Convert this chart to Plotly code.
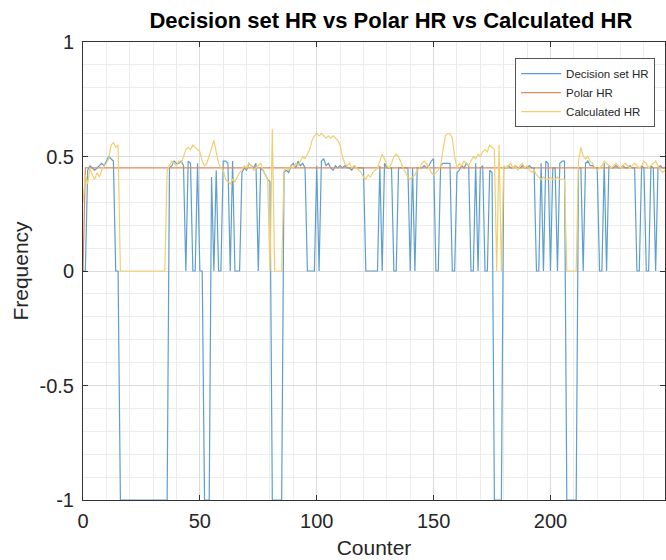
import plotly.graph_objects as go

counter = list(range(0, 250))

decision_hr = [
    0, 0, 0.44, 0.46, 0.45, 0.44, 0.45, 0.46, 0.47, 0.46,
    0.48, 0.50, 0.49, 0.48, 0, 0, -1, -1, -1, -1,
    -1, -1, -1, -1, -1, -1, -1, -1, -1, -1,
    -1, -1, -1, -1, -1, -1, -1, 0.45, 0.46, 0.48,
    0.47, 0.47, 0.48, 0.46, 0, 0.48, 0.47, 0, 0, 0.47,
    0, 0, -1, -1, -1, 0.41, 0, 0.44, 0, 0,
    0.48, 0.48, 0.47, 0, 0.48, 0, 0, 0, 0.43, 0.45,
    0.44, 0.47, 0.46, 0.45, 0.47, 0, 0.45, 0.44, 0.42, 0.40,
    0.39, -1, -1, -1, -1, -1, 0.43, 0.44, 0.43, 0.46,
    0.47, 0.45, 0.48, 0.46, 0.47, 0.45, 0, 0, 0, 0,
    0.46, 0, 0.48, 0.49, 0.46, 0.47, 0.45, 0.44, 0.46, 0.45,
    0.46, 0.45, 0.46, 0.45, 0.45, 0.44, 0.46, 0.45, 0.45, 0.45,
    0.45, 0, 0, 0, 0, 0, 0, 0.46, 0, 0.47,
    0.45, 0.45, 0.45, 0, 0, 0.45, 0.45, 0.45, 0.45, 0.45,
    0, 0.45, 0, 0.45, 0.45, 0.45, 0.46, 0.45, 0.46, 0.48,
    0.49, 0, 0, 0.46, 0.47, 0.47, 0.47, 0.47, 0, 0,
    0.43, 0.44, 0.46, 0.45, 0.47, 0.46, 0, 0, 0.47, 0,
    0.45, 0.46, 0, 0, 0.44, 0.43, -1, -1, -1, -1,
    0.45, 0.45, 0.46, 0.45, 0.45, 0.46, 0.45, 0.45, 0.46, 0.45,
    0.45, 0.46, 0.45, 0.45, 0, 0, 0.47, 0, 0.48, 0.47,
    0, 0.45, 0.45, 0, 0.47, 0.48, 0.48, -1, -1, -1,
    -1, -1, 0.45, 0.45, 0, 0.47, 0.48, 0.46, 0.46, 0.45,
    0.45, 0, 0, 0.47, 0, 0.46, 0.45, 0.45, 0.46, 0.45,
    0.45, 0.46, 0.45, 0.45, 0.46, 0.45, 0.45, 0, 0, 0.46,
    0.45, 0, 0, 0.46, 0.45, 0, 0.45, 0.46, 0.45, 0.45,
]

polar_hr = [0] + [0.45] * 249

calculated_hr = [
    0.30, 0.42, 0.38, 0.45, 0.42, 0.40, 0.43, 0.41, 0.44, 0.46,
    0.47, 0.49, 0.55, 0.56, 0.54, 0.55, 0, 0, 0, 0,
    0, 0, 0, 0, 0, 0, 0, 0, 0, 0,
    0, 0, 0, 0, 0, 0, 0.44, 0.46, 0.48, 0.47,
    0.46, 0.48, 0.47, 0.50, 0.53, 0.54, 0.53, 0.55, 0.54, 0.53,
    0.52, 0.48, 0.46, 0.47, 0.50, 0.53, 0.57, 0.52, 0.47, 0.45,
    0.44, 0.40, 0.39, 0.38, 0.40, 0.39, 0.41, 0.43, 0.44, 0.46,
    0.45, 0.47, 0.46, 0.44, 0.45, 0.46, 0.47, 0.44, 0.42, 0.40,
    0, 0.62, 0, 0, 0, 0, 0.44, 0.45, 0.44, 0.46,
    0.45, 0.47, 0.46, 0.48, 0.50, 0.49, 0.51, 0.53, 0.57, 0.59,
    0.60, 0.59, 0.60, 0.59, 0.58, 0.59, 0.58, 0.59, 0.58, 0.57,
    0.55, 0.50, 0.47, 0.46, 0.47, 0.45, 0.46, 0.45, 0.44, 0.43,
    0.41, 0.40, 0.42, 0.41, 0.43, 0.44, 0.45, 0.48, 0.51, 0.49,
    0.46, 0.45, 0.47, 0.50, 0.51, 0.50, 0.47, 0.45, 0.43, 0.41,
    0.40, 0.41, 0.42, 0.44, 0.45, 0.47, 0.48, 0.47, 0.45, 0.43,
    0.42, 0.43, 0.44, 0.46, 0.52, 0.59, 0.60, 0.60, 0.58, 0.50,
    0.45, 0.47, 0.46, 0.48, 0.47, 0.46, 0.48, 0.50, 0.49, 0.51,
    0.50, 0.52, 0.53, 0.52, 0.55, 0.54, 0.53, 0, 0.55, 0,
    0.46, 0.45, 0.46, 0.47, 0.45, 0.46, 0.44, 0.46, 0.47, 0.45,
    0.46, 0.44, 0.43, 0.44, 0.42, 0.41, 0.40, 0.41, 0.40, 0.40,
    0.41, 0.40, 0.40, 0.41, 0.40, 0.40, 0.40, 0, 0, 0,
    0, 0, 0.48, 0.54, 0.50, 0.49, 0.50, 0.48, 0.47, 0.45,
    0.44, 0.45, 0.46, 0.48, 0.47, 0.46, 0.45, 0.46, 0.47, 0.46,
    0.45, 0.46, 0.47, 0.46, 0.45, 0.46, 0.47, 0.46, 0.45, 0.46,
    0.48, 0.47, 0.45, 0.46, 0.47, 0.48, 0.46, 0.44, 0.43, 0.44,
]

x_ticks = [0, 50, 100, 150, 200]
y_ticks = [-1, -0.5, 0, 0.5, 1]
y_tick_text = ["-1", "-0.5", "0", "0.5", "1"]

fig = go.Figure()
fig.add_trace(go.Scatter(x=counter, y=decision_hr, mode="lines", name="Decision set HR",
                         line=dict(color="#5e9fcf", width=1.2)))
fig.add_trace(go.Scatter(x=counter, y=polar_hr, mode="lines", name="Polar HR",
                         line=dict(color="#dc8a5e", width=1.2)))
fig.add_trace(go.Scatter(x=counter, y=calculated_hr, mode="lines", name="Calculated HR",
                         line=dict(color="#f1cf70", width=1.2)))

font_family = "Liberation Sans, Arial, Helvetica, sans-serif"

fig.update_layout(
    width=666, height=560,
    margin=dict(l=83, r=1, t=42, b=60),
    paper_bgcolor="white", plot_bgcolor="white",
    font=dict(family=font_family, color="#262626", size=20),
    title=dict(text="<b>Decision set HR vs Polar HR vs Calculated HR</b>",
               x=0.529, xref="paper", xanchor="center",
               y=1 - 20 / 560, yref="container", yanchor="middle",
               font=dict(size=22, color="#000000")),
    showlegend=True,
    legend=dict(x=0.983, y=0.965, xanchor="right", yanchor="top",
                bgcolor="white", bordercolor="#555555", borderwidth=1,
                font=dict(size=11.5, color="#262626"),
                tracegroupgap=0, itemwidth=40),
)

fig.update_xaxes(
    range=[0, 249], tickvals=x_ticks, ticktext=[str(v) for v in x_ticks],
    showgrid=True, gridcolor="#dcdcdc", gridwidth=1,
    minor=dict(dtick=10, tick0=0, showgrid=True, gridcolor="#ececec", gridwidth=1),
    showline=True, linecolor="#333333", linewidth=1, mirror="ticks",
    ticks="inside", ticklen=5, tickcolor="#333333",
    zeroline=False, automargin=False, ticklabelstandoff=3,
    tickfont=dict(size=20, color="#262626"),
    title=dict(text="Counter", font=dict(size=21, color="#262626"), standoff=9),
)
fig.update_yaxes(
    range=[-1, 1], tickvals=y_ticks, ticktext=y_tick_text,
    showgrid=True, gridcolor="#dcdcdc", gridwidth=1,
    minor=dict(dtick=0.1, tick0=0, showgrid=True, gridcolor="#ececec", gridwidth=1),
    showline=True, linecolor="#333333", linewidth=1, mirror="ticks",
    ticks="inside", ticklen=5, tickcolor="#333333",
    zeroline=False, automargin=False, ticklabelstandoff=4,
    tickfont=dict(size=20, color="#262626"),
    title=dict(text="Frequency", font=dict(size=21, color="#262626"), standoff=5),
)

# remove the page's default body margin so the 666x560 figure fills the window exactly
fig.write_html(
    "out.html",
    config={"displayModeBar": False},
    post_script="document.body.style.margin='0px';document.body.style.overflow='hidden';",
)
